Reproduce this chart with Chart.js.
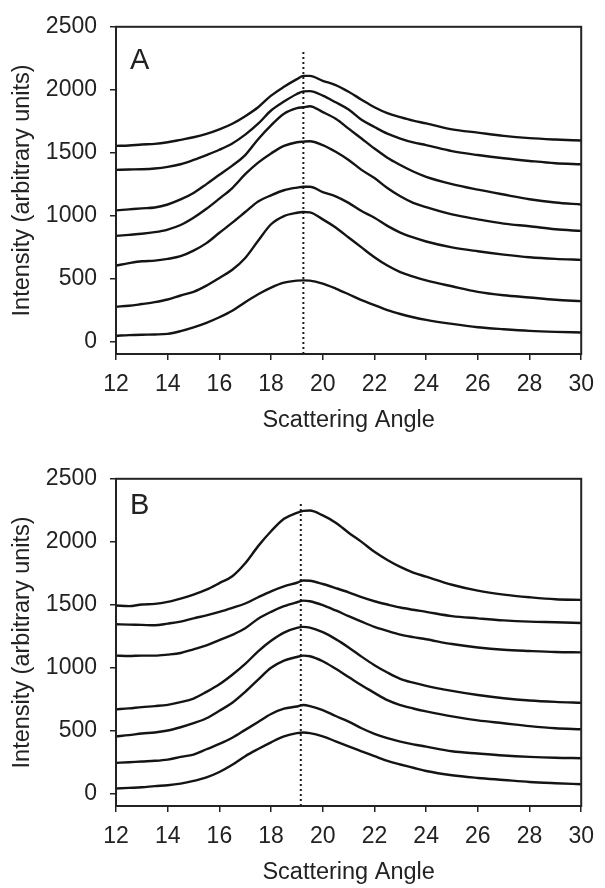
<!DOCTYPE html>
<html>
<head>
<meta charset="utf-8">
<script src="https://cdn.jsdelivr.net/npm/chart.js@4.4.1/dist/chart.umd.min.js"></script>
<style>
  body { margin: 0; background: #fff; width: 605px; height: 888px; overflow: hidden; position: relative; }
  canvas { position: absolute; left: 0; }
  #graficaA { top: 0; }
  #graficaB { top: 452px; }
</style>
</head>
<body>
<canvas id="graficaA" width="605" height="444"></canvas>
<canvas id="graficaB" width="605" height="444"></canvas>
<script>
// scattering angle where each trace was read
var angles = [12, 12.5, 13, 13.5, 14, 14.5, 15, 15.5, 16, 16.5, 17, 17.5, 18, 18.5, 19, 19.25, 19.5,
              20, 20.5, 21, 21.5, 22, 22.5, 23, 23.5, 24, 25, 26, 27, 28, 29, 30];

// panel A, bottom trace to top trace
var a1 = [45, 50, 53, 55, 60, 82, 112, 148, 192, 244, 312, 375, 428, 467, 483, 485, 483,
          459, 420, 375, 328, 289, 249, 218, 192, 171, 139, 113, 97, 84, 76, 71];
var a2 = [276, 283, 297, 312, 333, 365, 394, 443, 504, 569, 663, 800, 931, 996, 1022, 1028, 1025,
          970, 905, 826, 747, 669, 603, 551, 515, 485, 438, 394, 367, 349, 331, 320];
var a3 = [603, 622, 637, 642, 656, 677, 721, 781, 863, 944, 1028, 1112, 1161, 1201, 1222, 1229, 1229,
          1187, 1153, 1101, 1036, 983, 918, 865, 826, 794, 747, 716, 690, 669, 656, 648];
var a4 = [839, 847, 855, 868, 889, 925, 983, 1054, 1135, 1219, 1329, 1421, 1494, 1554, 1583, 1588, 1591,
          1560, 1507, 1442, 1363, 1298, 1219, 1153, 1101, 1067, 1009, 970, 936, 915, 891, 878];
var a5 = [1041, 1049, 1057, 1064, 1088, 1128, 1180, 1250, 1324, 1397, 1481, 1607, 1717, 1809, 1853, 1861, 1869,
          1822, 1769, 1691, 1612, 1533, 1460, 1402, 1350, 1308, 1250, 1206, 1167, 1130, 1104, 1088];
var a6 = [1363, 1366, 1368, 1374, 1387, 1408, 1442, 1481, 1523, 1573, 1643, 1730, 1835, 1906, 1966, 1987, 1989,
          1953, 1900, 1843, 1761, 1704, 1651, 1612, 1581, 1560, 1512, 1481, 1455, 1434, 1416, 1408];
var a7 = [1554, 1557, 1565, 1570, 1583, 1602, 1622, 1649, 1685, 1730, 1790, 1861, 1953, 2023, 2084, 2110, 2110,
          2071, 2037, 1984, 1921, 1861, 1814, 1782, 1754, 1733, 1685, 1659, 1633, 1615, 1604, 1596];

// panel B, bottom trace to top trace
var b1 = [39, 44, 49, 58, 65, 78, 99, 127, 170, 227, 296, 353, 406, 453, 479, 484, 479,
          453, 414, 374, 335, 296, 258, 230, 204, 178, 144, 123, 107, 91, 81, 73];
var b2 = [243, 248, 254, 259, 269, 290, 309, 351, 393, 442, 505, 568, 631, 673, 691, 702, 694,
          662, 615, 571, 518, 474, 440, 412, 390, 372, 335, 317, 301, 290, 283, 280];
var b3 = [453, 463, 476, 484, 500, 526, 558, 597, 657, 720, 807, 904, 998, 1056, 1084, 1095, 1090,
          1050, 990, 925, 859, 799, 741, 702, 675, 652, 612, 580, 558, 535, 518, 510];
var b4 = [668, 676, 686, 694, 704, 725, 754, 807, 867, 943, 1029, 1129, 1213, 1278, 1315, 1323, 1318,
          1281, 1226, 1160, 1087, 1019, 961, 911, 880, 855, 815, 782, 756, 738, 727, 720];
var b5 = [1095, 1092, 1095, 1095, 1103, 1116, 1145, 1176, 1218, 1260, 1312, 1388, 1443, 1488, 1519, 1532, 1527,
          1496, 1454, 1409, 1365, 1323, 1291, 1262, 1242, 1225, 1187, 1160, 1142, 1132, 1124, 1121];
var b6 = [1344, 1341, 1339, 1336, 1349, 1365, 1391, 1415, 1443, 1475, 1509, 1559, 1606, 1645, 1674, 1692, 1690,
          1664, 1632, 1598, 1559, 1527, 1501, 1477, 1459, 1443, 1409, 1391, 1375, 1365, 1360, 1354];
var b7 = [1493, 1488, 1501, 1506, 1522, 1548, 1580, 1619, 1671, 1726, 1829, 1965, 2083, 2182, 2230, 2245, 2248,
          2209, 2151, 2072, 1999, 1920, 1855, 1800, 1755, 1722, 1658, 1611, 1580, 1559, 1543, 1538];

var xTicks = [12, 14, 16, 18, 20, 22, 24, 26, 28, 30];
var yTicks = [0, 500, 1000, 1500, 2000, 2500];

// dotted reference line (angle, and where it stops at the top)
var lineA = 19.25;
var lineB = 19.15;
var lineTop = 2300;

Chart.defaults.font.family = '"Liberation Sans", Arial, sans-serif';
Chart.defaults.color = '#222';

function trace(values) {
    return {
        data: values.map(function (v, i) { return { x: angles[i], y: v }; }),
        borderColor: '#141414',
        borderWidth: 2.4,
        pointRadius: 0,
        fill: false,
        cubicInterpolationMode: 'monotone'
    };
}

function dotted(x) {
    return {
        data: [{ x: x, y: -100 }, { x: x, y: lineTop }],
        borderColor: '#1a1a1a',
        borderWidth: 2,
        borderDash: [2, 3],
        pointRadius: 0,
        fill: false
    };
}

// box round the plot and the panel letter
var panel = {
    id: 'panel',
    afterDraw: function (chart, args, opts) {
        var ctx = chart.ctx;
        var ca = chart.chartArea;
        ctx.save();
        ctx.strokeStyle = '#222';
        ctx.lineWidth = 2;
        ctx.strokeRect(ca.left, ca.top, ca.right - ca.left, ca.bottom - ca.top);
        ctx.fillStyle = '#222';
        ctx.font = '29px "Liberation Sans", Arial, sans-serif';
        ctx.textBaseline = 'alphabetic';
        ctx.fillText(opts.letter, 130, opts.letterY);
        ctx.restore();
    }
};

function makeChart(id, letter, letterY, curves, lineX) {
    var sets = curves.map(trace);
    sets.push(dotted(lineX));
    return new Chart(document.getElementById(id), {
        type: 'line',
        data: { datasets: sets },
        plugins: [panel],
        options: {
            responsive: false,
            animation: false,
            devicePixelRatio: 1,
            layout: { padding: { top: 24, right: 16, left: 0, bottom: 0 } },
            plugins: {
                legend: { display: false },
                tooltip: { enabled: false },
                panel: { letter: letter, letterY: letterY }
            },
            scales: {
                x: {
                    type: 'linear',
                    min: 12,
                    max: 30,
                    afterBuildTicks: function (s) { s.ticks = xTicks.map(function (v) { return { value: v }; }); },
                    afterFit: function (s) { s.height = 90; },
                    grid: { drawOnChartArea: false, drawTicks: true, tickLength: 6, color: '#222', lineWidth: 1.5 },
                    border: { display: true, color: '#222', width: 2 },
                    ticks: { font: { size: 23 }, padding: 11, maxRotation: 0, color: '#222' },
                    title: { display: true, text: 'Scattering Angle', font: { size: 23.5 }, padding: { bottom: 9, top: 0 }, color: '#222' }
                },
                y: {
                    min: -100,
                    max: 2500,
                    afterBuildTicks: function (s) { s.ticks = yTicks.map(function (v) { return { value: v }; }); },
                    afterFit: function (s) { s.width = 116; },
                    grid: { drawOnChartArea: false, drawTicks: true, tickLength: 6, color: '#222', lineWidth: 1.5 },
                    border: { display: true, color: '#222', width: 2 },
                    ticks: { font: { size: 23 }, padding: 13, color: '#222', callback: function (v) { return String(v); } },
                    title: { display: true, text: 'Intensity (arbitrary units)', font: { size: 23.5 }, padding: { top: 8, bottom: 0 }, color: '#222' }
                }
            }
        }
    });
}

makeChart('graficaA', 'A', 69, [a1, a2, a3, a4, a5, a6, a7], lineA);
makeChart('graficaB', 'B', 62, [b1, b2, b3, b4, b5, b6, b7], lineB);
</script>
</body>
</html>
